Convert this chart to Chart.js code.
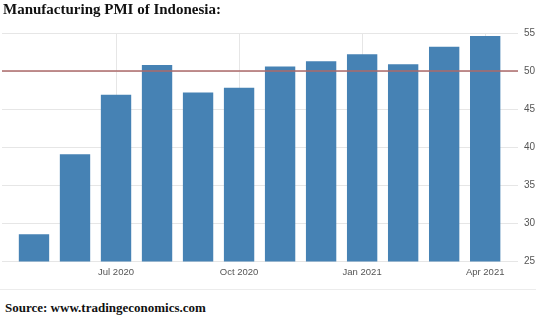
<!DOCTYPE html>
<html>
<head>
<meta charset="utf-8">
<script src="https://cdn.jsdelivr.net/npm/chart.js@4.4.0/dist/chart.umd.min.js"></script>
<style>
  body { margin: 0; background: #fff; }
  #wrap { position: relative; width: 536px; height: 316px; overflow: hidden; }
  #title { position: absolute; left: 3px; top: 1px; font: bold 15px "Liberation Serif", "DejaVu Serif", serif; color: #111; }
  #source { position: absolute; left: 5px; top: 300px; font: bold 13px "Liberation Serif", "DejaVu Serif", serif; color: #111; }
  #box { position: absolute; left: 0; top: 0; width: 536px; height: 289px; border-bottom: 1px solid #ececec; }
  #box canvas { display: block; }
</style>
</head>
<body>
<div id="wrap">
  <div id="box"><canvas id="chart" width="536" height="289"></canvas></div>
  <div id="title">Manufacturing PMI of Indonesia:</div>
  <div id="source">Source: www.tradingeconomics.com</div>
</div>
<script>
// May 2020 .. Apr 2021
const months = ['May 2020', 'Jun 2020', 'Jul 2020', 'Aug 2020', 'Sep 2020', 'Oct 2020',
                'Nov 2020', 'Dec 2020', 'Jan 2021', 'Feb 2021', 'Mar 2021', 'Apr 2021'];
const pmi = [28.6, 39.1, 46.9, 50.8, 47.2, 47.8, 50.6, 51.3, 52.2, 50.9, 53.2, 54.6];
const labelIdx = [2, 5, 8, 11];           // months shown on the x axis
const yTicks = [25, 30, 35, 40, 45, 50, 55];
const threshold = 50;

const thresholdLine = {
  id: 'thresholdLine',
  afterDatasetsDraw(chart) {
    const { ctx, chartArea, scales } = chart;
    const y = scales.y.getPixelForValue(threshold);
    ctx.save();
    ctx.strokeStyle = '#ad6a6a';
    ctx.lineWidth = 1.5;
    ctx.beginPath();
    ctx.moveTo(chartArea.left, y);
    ctx.lineTo(chartArea.right, y);
    ctx.stroke();
    ctx.restore();
  }
};

new Chart(document.getElementById('chart'), {
  type: 'bar',
  data: {
    datasets: [{
      data: pmi.map((v, i) => ({ x: i, y: v })),
      backgroundColor: '#4682b4',
      borderWidth: 0,
      barPercentage: 0.74,
      categoryPercentage: 1,
    }],
  },
  options: {
    responsive: false,
    animation: false,
    events: [],
    layout: { padding: { left: 2, top: 33, bottom: 6, right: 0 } },
    plugins: { legend: { display: false }, tooltip: { enabled: false } },
    scales: {
      x: {
        type: 'linear',
        min: -0.78,
        max: 11.8,
        offset: false,
        afterBuildTicks: (axis) => { axis.ticks = labelIdx.map(v => ({ value: v })); },
        ticks: {
          callback: (v) => months[v],
          color: '#555',
          font: { family: 'Liberation Sans', size: 9.5 },
          padding: 5,
          maxRotation: 0,
          autoSkip: false,
        },
        grid: { color: '#e6e6e6', offset: false, tickLength: 0, drawTicks: false },
        border: { display: false },
      },
      y: {
        position: 'right',
        min: 25,
        max: 55,
        afterBuildTicks: (axis) => { axis.ticks = yTicks.map(v => ({ value: v })); },
        afterFit: (axis) => { axis.width = 18; },
        ticks: {
          color: '#555',
          font: { family: 'Liberation Sans', size: 10 },
          padding: 6,
          autoSkip: false,
        },
        grid: { color: '#e6e6e6', tickLength: 0, drawTicks: false },
        border: { display: false },
      },
    },
  },
  plugins: [thresholdLine],
});
</script>
</body>
</html>
